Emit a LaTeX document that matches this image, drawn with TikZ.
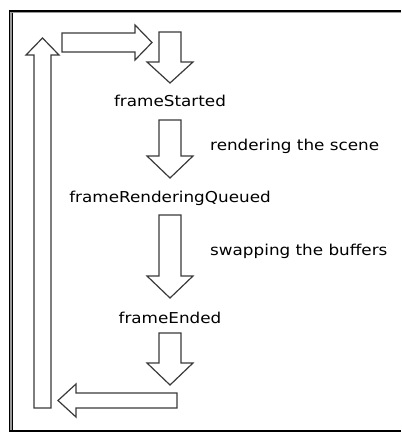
\documentclass[tikz,border=0pt]{standalone}
\usepackage{fontspec}
\newfontfamily\lblfont[FakeStretch=1.12]{DejaVu Sans}
\definecolor{arrowline}{HTML}{3A3A3A}
\definecolor{framegray}{HTML}{9A9A9A}
\tikzset{
  blockarrow/.style={draw=arrowline, line width=1.2pt, fill=white, line join=miter},
  lbl/.style={font=\lblfont\fontsize{15}{18}\selectfont, text=black, inner sep=0pt, anchor=base},
  sidelbl/.style={lbl, anchor=base west},
}
\begin{document}
\begin{tikzpicture}[x=1pt,y=-1pt]
\useasboundingbox (0,0) rectangle (401,433);
\fill[white] (0,0) rectangle (401,433);
% frame
\fill[framegray] (10,11) rectangle (12,431);
\draw[black, line width=1pt] (9.5,10.5) -- (9.5,432);
\draw[black, line width=1pt] (12.5,12) -- (12.5,430);
\draw[black, line width=1.5pt] (9,11) -- (401,11);
\draw[framegray, line width=1pt] (12,12.5) -- (401,12.5);
\draw[black, line width=2pt] (9,431) -- (401,431);
% left up arrow
\draw[blockarrow] (34,408) -- (34,55) -- (26,55) -- (42.5,38) -- (59,55) -- (51,55) -- (51,408) -- cycle;
% top right arrow
\draw[blockarrow] (62,33) -- (135,33) -- (135,25) -- (152,42.5) -- (135,60) -- (135,52) -- (62,52) -- cycle;
% down arrows
\draw[blockarrow] (159,32) -- (181,32) -- (181,62) -- (193,62) -- (170,83) -- (147,62) -- (159,62) -- cycle;
\draw[blockarrow] (159,120) -- (181,120) -- (181,156) -- (193,156) -- (170,178) -- (147,156) -- (159,156) -- cycle;
\draw[blockarrow] (159,215) -- (181,215) -- (181,276) -- (193,276) -- (170,298) -- (147,276) -- (159,276) -- cycle;
\draw[blockarrow] (159,333) -- (181,333) -- (181,363) -- (193,363) -- (170,385) -- (147,363) -- (159,363) -- cycle;
% bottom left arrow
\draw[blockarrow] (177,393) -- (177,408) -- (76,408) -- (76,417) -- (58,400.5) -- (76,384) -- (76,393) -- cycle;
% labels
\node[lbl] (fs) at (170,106.5) {frameStarted};
\node[lbl] (frq) at (170,202) {frameRenderingQueued};
\node[lbl] (fe) at (170,323) {frameEnded};
\node[sidelbl] (rs) at (210,150) {rendering the scene};
\node[sidelbl] (sb) at (210,255) {swapping the buffers};
\end{tikzpicture}
\end{document}
